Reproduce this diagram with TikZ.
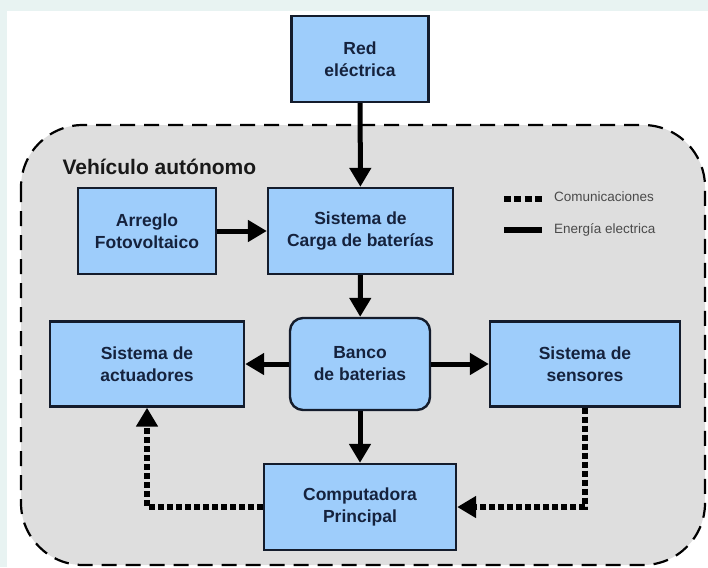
\documentclass[tikz,border=0pt]{standalone}
\usepackage{fontspec}
\setmainfont{Liberation Sans}
\usetikzlibrary{arrows.meta}
\definecolor{boxfill}{HTML}{9ECDFB}
\definecolor{boxline}{HTML}{141C2C}
\definecolor{boxtext}{HTML}{15223D}
\definecolor{areafill}{HTML}{DEDEDE}
\definecolor{bgtint}{HTML}{E8F3F2}
\definecolor{legtext}{HTML}{4A4A4A}
\tikzset{
  blockbox/.style={draw=boxline, line width=2.4pt, fill=boxfill, align=center,
    text=boxtext, font=\fontsize{17.5}{22}\selectfont\bfseries, inner sep=0pt},
  power/.style={line width=5pt, -{Triangle[width=21pt,length=19pt]}},
  comm/.style={line width=5.5pt, dash pattern=on 6pt off 3pt, -{Triangle[width=21pt,length=19pt]}},
  areabox/.style={draw=black, fill=areafill, line width=2.2pt, dash pattern=on 15pt off 9pt, rounded corners=62pt},
}
\begin{document}
\begin{tikzpicture}[x=1pt,y=-1pt]
\useasboundingbox (0,0) rectangle (708,567);
\fill[bgtint] (0,0) rectangle (708,567);
\fill[white] (7,11) rectangle (708,567);
\draw[areabox] (21,125) rectangle (705,565);
\node[anchor=west, font=\fontsize{21}{24}\selectfont\bfseries, text=black!90] (title) at (59,167) {Vehículo autónomo};

\node[blockbox, minimum width=137pt, minimum height=86pt] (red) at (360,59) {Red\\eléctrica};
\node[blockbox, minimum width=138pt, minimum height=86pt] (arr) at (147,231) {Arreglo\\Fotovoltaico};
\node[blockbox, minimum width=185pt, minimum height=86pt] (carga) at (360.5,231) {Sistema de\\Carga de baterías};
\node[blockbox, minimum width=140pt, minimum height=92pt, rounded corners=13pt] (banco) at (360,364) {Banco\\de baterias};
\node[blockbox, minimum width=194pt, minimum height=85pt] (act) at (147,364) {Sistema de\\actuadores};
\node[blockbox, minimum width=190pt, minimum height=85pt] (sen) at (585,364) {Sistema de\\sensores};
\node[blockbox, minimum width=192pt, minimum height=86pt] (comp) at (360,507) {Computadora\\Principal};

\draw[power] (red) -- (carga);
\draw[power] (arr) -- (carga);
\draw[power] (carga) -- (banco);
\draw[power] (banco) -- (act);
\draw[power] (banco) -- (sen);
\draw[power] (banco) -- (comp);
\draw[comm] (comp.west) -| (act.south);
\draw[comm] (sen.south) |- (comp.east);

\coordinate (lc1) at (504,199);
\coordinate (lc2) at (542,199);
\coordinate (le1) at (504,230);
\coordinate (le2) at (542,230);
\draw[line width=6.5pt, dash pattern=on 7pt off 3.3pt] (lc1) -- (lc2);
\draw[line width=6pt] (le1) -- (le2);
\node[anchor=west, text=legtext, font=\fontsize{13.5}{15}\selectfont, inner sep=0pt] (lcom) at (554,197) {Comunicaciones};
\node[anchor=west, text=legtext, font=\fontsize{13.5}{15}\selectfont, inner sep=0pt] (lene) at (554,230) {Energía electrica};
\end{tikzpicture}
\end{document}
